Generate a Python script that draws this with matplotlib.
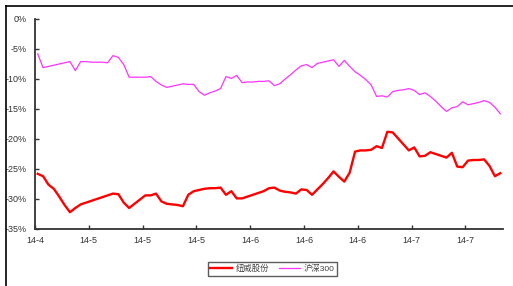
import matplotlib
matplotlib.use("Agg")
import matplotlib.pyplot as plt
from matplotlib.lines import Line2D

plt.rcParams['font.family'] = ['Liberation Sans', 'Noto Sans CJK SC', 'DejaVu Sans']

series_names = ["纽威股份", "沪深300"]

niuwei = [-25.8, -26.2, -27.6, -28.3, -29.6, -31.0, -32.2, -31.5, -30.9, -30.6,
          -30.3, -30.0, -29.7, -29.4, -29.1, -29.2, -30.6, -31.5, -30.8, -30.1,
          -29.4, -29.4, -29.1, -30.4, -30.8, -30.9, -31.0, -31.2, -29.3, -28.7,
          -28.5, -28.3, -28.2, -28.2, -28.1, -29.3, -28.7, -29.9, -29.9, -29.6,
          -29.3, -29.0, -28.7, -28.2, -28.1, -28.6, -28.8, -28.9, -29.1, -28.4,
          -28.5, -29.3, -28.4, -27.5, -26.5, -25.4, -26.3, -27.1, -25.6, -22.1,
          -21.9, -21.9, -21.8, -21.2, -21.5, -18.8, -18.9, -19.9, -20.9, -21.9,
          -21.4, -22.9, -22.8, -22.2, -22.5, -22.8, -23.1, -22.3, -24.6, -24.7,
          -23.6, -23.5, -23.5, -23.4, -24.5, -26.2, -25.7]

hs300 = [-5.8, -8.1, -7.9, -7.7, -7.5, -7.3, -7.1, -8.6, -7.1, -7.1,
         -7.2, -7.2, -7.2, -7.3, -6.1, -6.4, -7.6, -9.7, -9.7, -9.7,
         -9.7, -9.6, -10.4, -11.0, -11.4, -11.2, -11.0, -10.8, -10.9, -10.9,
         -12.1, -12.7, -12.3, -12.0, -11.6, -9.6, -9.9, -9.4, -10.6, -10.5,
         -10.5, -10.4, -10.4, -10.3, -11.1, -10.8, -10.0, -9.3, -8.5, -7.8,
         -7.6, -8.1, -7.4, -7.2, -7.0, -6.8, -7.9, -6.9, -7.9, -8.8,
         -9.4, -10.1, -11.0, -12.9, -12.8, -13.0, -12.1, -11.9, -11.8, -11.6,
         -11.9, -12.6, -12.3, -12.9, -13.7, -14.6, -15.4, -14.8, -14.6, -13.8,
         -14.3, -14.1, -13.9, -13.6, -13.9, -14.7, -15.8]

tick_labels = ["14-4", "14-5", "14-5", "14-5", "14-6", "14-6", "14-6", "14-7", "14-7"]
y_ticks = [0, -5, -10, -15, -20, -25, -30, -35]

W, H = 513, 286
fig = plt.figure(figsize=(W / 100, H / 100), dpi=100)

# outer frame (left and top edges)
fig.add_artist(Line2D([6 / W, 6 / W], [0, 1 - 6 / H], color='black', lw=1.2, transform=fig.transFigure))
fig.add_artist(Line2D([6 / W, 1], [1 - 6 / H, 1 - 6 / H], color='black', lw=1.2, transform=fig.transFigure))

left, right, top, bottom = 35, 503, 19, 229
ax = fig.add_axes([left / W, 1 - bottom / H, (right - left) / W, (bottom - top) / H])

x = list(range(len(niuwei)))
ax.plot(x, niuwei, color='#FF0000', lw=1.7, label=series_names[0])
ax.plot(x, hs300, color='#FF33FF', lw=0.9, label=series_names[1])

ax.set_xlim(-0.5, len(niuwei) - 0.5)
ax.set_ylim(-35, 0)

ax.set_yticks(y_ticks)
ax.set_yticklabels([f"{v}%" for v in y_ticks])
tick_pos = [-0.5 + 10 * k for k in range(len(tick_labels))]
ax.set_xticks(tick_pos)
ax.set_xticklabels(tick_labels)

for s in ['top', 'right']:
    ax.spines[s].set_visible(False)
for s in ['left', 'bottom']:
    ax.spines[s].set_color('#333333')
    ax.spines[s].set_linewidth(1.3)

ax.tick_params(axis='both', direction='in', length=3, width=1, color='#333333',
               labelsize=6.5, labelcolor='#333333')
ax.tick_params(axis='y', pad=6)
ax.tick_params(axis='x', pad=5)

leg = fig.legend(loc='center', bbox_to_anchor=(272.5 / W, 1 - 269 / H), ncol=2,
                 fontsize=6, frameon=True, fancybox=False, edgecolor='#333333',
                 handlelength=2.6, handletextpad=0.4, columnspacing=1.2,
                 borderpad=0.3, labelcolor='#444444')
leg.get_frame().set_linewidth(1.0)

fig.savefig("out.png", dpi=100)
